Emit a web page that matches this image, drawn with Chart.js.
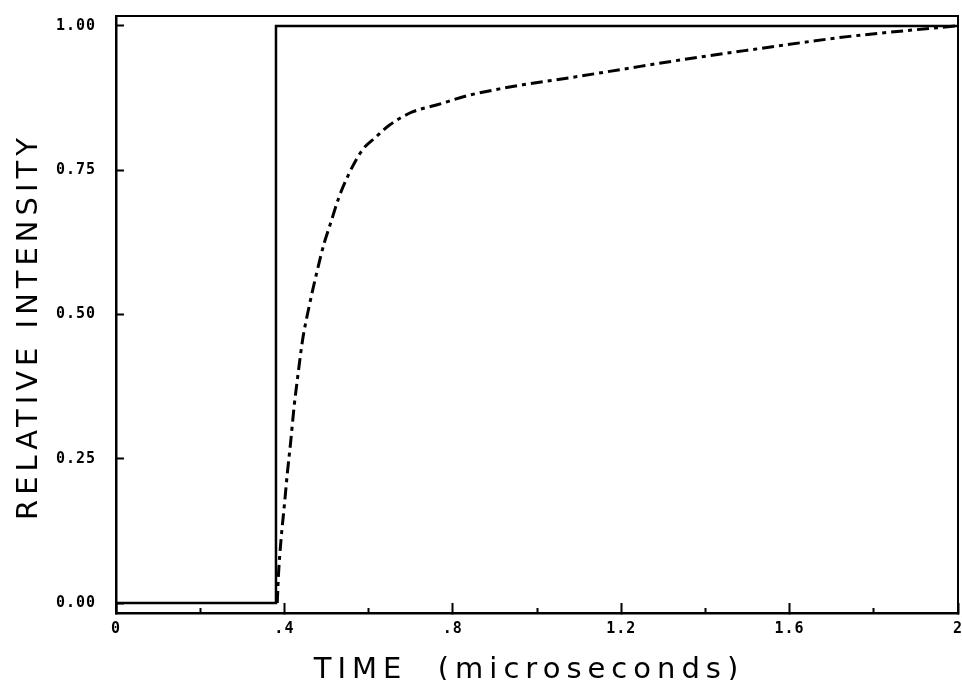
<!DOCTYPE html>
<html>
<head>
<meta charset="utf-8">
<script src="https://cdn.jsdelivr.net/npm/chart.js@4.4.0/dist/chart.umd.min.js"></script>
<style>
  html, body { margin: 0; padding: 0; background: #fff; }
  #wrap { width: 962px; height: 680px; }
</style>
</head>
<body>
<div id="wrap"><canvas id="intensityChart"></canvas></div>
<script>
// square input pulse
const stepTime = [0, 0.38, 0.38, 2];
const stepLevel = [0, 0, 1, 1];

// measured detector response
const responseTime = [0.383, 0.386, 0.392, 0.400, 0.407, 0.415, 0.423, 0.433, 0.443, 0.459, 0.476, 0.495,
  0.507, 0.530, 0.554, 0.585, 0.618, 0.649, 0.704, 0.761, 0.839, 0.911, 0.966, 1.084, 1.203, 1.322,
  1.441, 1.500, 1.743, 1.995];
const responseLevel = [0.00, 0.05, 0.11, 0.17, 0.225, 0.28, 0.34, 0.40, 0.455, 0.515, 0.57, 0.625,
  0.652, 0.704, 0.745, 0.785, 0.808, 0.828, 0.851, 0.863, 0.880, 0.891, 0.898, 0.911, 0.925, 0.939,
  0.952, 0.958, 0.982, 1.00];

const xTickValues = [0, 0.4, 0.8, 1.2, 1.6, 2];
const xTickLabels = ['0', '.4', '.8', '1.2', '1.6', '2'];
const xMinorValues = [0.2, 0.6, 1.0, 1.4, 1.8];
const yTickValues = [0, 0.25, 0.5, 0.75, 1];
const yTickLabels = ['0.00', '0.25', '0.50', '0.75', '1.00'];

const xTitle = 'TIME  (microseconds)';
const yTitle = 'RELATIVE INTENSITY';

const toPoints = (xs, ys) => xs.map((x, i) => ({ x: x, y: ys[i] }));

const tickFont = { family: 'DejaVu Sans Mono', size: 15, weight: 'bold' };

// wide plotter-style lettering for the axis titles
const axisTitles = {
  id: 'axisTitles',
  beforeDraw(chart) {
    chart.ctx.letterSpacing = '1px';
  },
  afterDraw(chart) {
    const { ctx, chartArea } = chart;
    ctx.save();
    ctx.fillStyle = '#000';
    ctx.font = '29px "DejaVu Sans"';
    ctx.textAlign = 'center';
    ctx.textBaseline = 'alphabetic';
    ctx.letterSpacing = '6px';
    ctx.fillText(xTitle, (chartArea.left + chartArea.right) / 2 - 8, chartArea.bottom + 65);
    ctx.translate(chartArea.left - 79, (chartArea.top + chartArea.bottom) / 2 + 12);
    ctx.rotate(-Math.PI / 2);
    ctx.letterSpacing = '5px';
    ctx.fillText(yTitle, 0, 0);
    ctx.restore();
    ctx.letterSpacing = '0px';
  }
};

new Chart(document.getElementById('intensityChart'), {
  type: 'line',
  data: {
    datasets: [
      {
        label: 'Pulse',
        data: toPoints(stepTime, stepLevel),
        borderColor: '#000',
        borderWidth: 2.5,
        pointRadius: 0,
        tension: 0
      },
      {
        label: 'Response',
        data: toPoints(responseTime, responseLevel),
        borderColor: '#000',
        borderWidth: 3,
        borderDash: [12, 5, 4, 5],
        pointRadius: 0,
        cubicInterpolationMode: 'monotone'
      }
    ]
  },
  options: {
    responsive: true,
    maintainAspectRatio: false,
    animation: false,
    layout: { padding: { top: 16, right: 4, left: 0, bottom: 0 } },
    plugins: {
      legend: { display: false },
      tooltip: { enabled: false }
    },
    scales: {
      x: {
        type: 'linear',
        position: 'bottom',
        weight: 1,
        min: 0,
        max: 2,
        afterBuildTicks: s => { s.ticks = xTickValues.map(v => ({ value: v })); },
        afterFit: s => { s.height = 67; s.paddingLeft = 0; s.paddingRight = 0; },
        ticks: {
          autoSkip: false,
          maxRotation: 0,
          padding: 17,
          color: '#000',
          font: tickFont,
          callback: (v, i) => xTickLabels[i]
        },
        grid: { drawOnChartArea: false, tickLength: -10, tickWidth: 2, tickColor: '#000' },
        border: { color: '#000', width: 2.5 }
      },
      xMinor: {
        type: 'linear',
        position: 'bottom',
        weight: 0,
        min: 0,
        max: 2,
        afterBuildTicks: s => { s.ticks = xMinorValues.map(v => ({ value: v })); },
        afterFit: s => { s.height = 0; s.paddingLeft = 0; s.paddingRight = 0; },
        ticks: { display: false, autoSkip: false },
        grid: { drawOnChartArea: false, tickLength: -5, tickWidth: 2, tickColor: '#000' },
        border: { display: false }
      },
      xTop: {
        type: 'linear',
        position: 'top',
        min: 0,
        max: 2,
        afterFit: s => { s.height = 0; s.paddingLeft = 0; s.paddingRight = 0; },
        ticks: { display: false },
        grid: { display: false },
        border: { color: '#000', width: 2 }
      },
      y: {
        type: 'linear',
        position: 'left',
        min: -0.0173,
        max: 1.0173,
        afterBuildTicks: s => { s.ticks = yTickValues.map(v => ({ value: v })); },
        afterFit: s => { s.width = 116; s.paddingTop = 0; s.paddingBottom = 0; },
        ticks: {
          padding: 28,
          color: '#000',
          font: tickFont,
          callback: (v, i) => yTickLabels[i]
        },
        grid: { drawOnChartArea: false, tickLength: -8, tickWidth: 2, tickColor: '#000' },
        border: { color: '#000', width: 2.5 }
      },
      yRight: {
        type: 'linear',
        position: 'right',
        min: -0.0173,
        max: 1.0173,
        afterFit: s => { s.width = 0; s.paddingTop = 0; s.paddingBottom = 0; },
        ticks: { display: false },
        grid: { display: false },
        border: { color: '#000', width: 2 }
      }
    }
  },
  plugins: [axisTitles]
});
</script>
</body>
</html>
